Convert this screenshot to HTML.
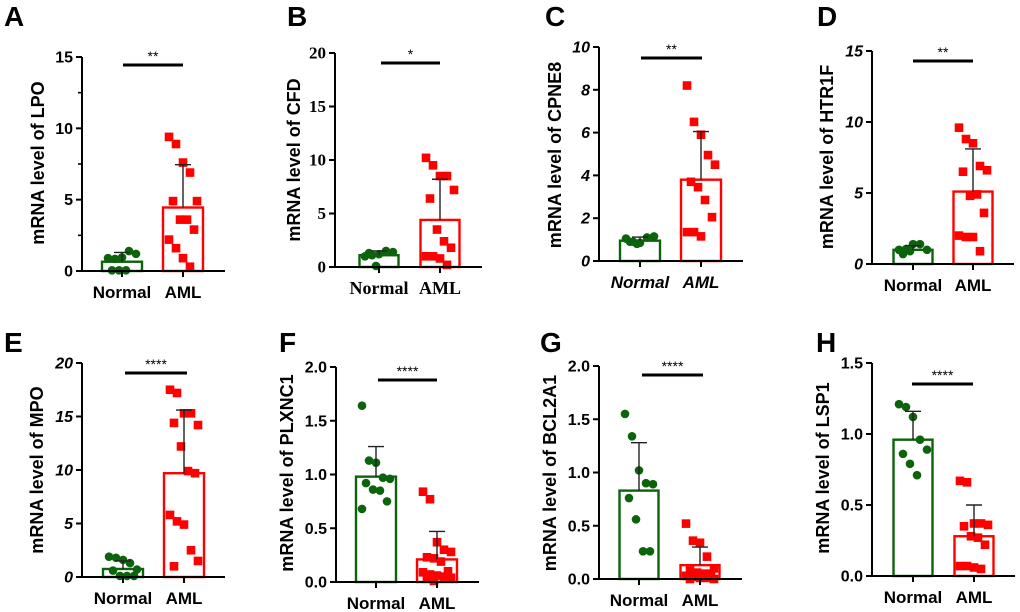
<!DOCTYPE html>
<html><head><meta charset="utf-8"><style>
html,body{margin:0;padding:0;background:#fff;}
svg{display:block;}
</style></head><body>
<svg id="fig" width="1020" height="612" viewBox="0 0 1020 612" xmlns="http://www.w3.org/2000/svg"></svg>
<script>
// ---- data arrays (top level) ----
const groups = ["Normal", "AML"];
const genesA = "LPO", genesB = "CFD", genesC = "CPNE8", genesD = "HTR1F", genesE = "MPO", genesF = "PLXNC1", genesG = "BCL2A1", genesH = "LSP1";
const ticksA = [0,5,10,15], ticksB = [0,5,10,15,20], ticksC = [0,2,4,6,8,10], ticksD = [0,5,10,15];
const ticksE = [0,5,10,15,20], ticksF = [0,0.5,1,1.5,2], ticksG = [0,0.5,1,1.5,2], ticksH = [0,0.5,1,1.5];
const meanA = [0.65,4.45], errA = [1.3,7.45];
const ptsA_N = [0.9,0.85,0.95,1.4,1.2,0.05,0.05,0.05];
const ptsA_A = [9.4,8.9,7.6,6.9,4.9,4.9,3.6,3.6,2.9,2.2,1.6,0.9,0.3];
const meanB = [1.1,4.4], errB = [1.5,8.2];
const ptsB_N = [1.0,1.1,1.2,1.5,1.4,1.3,0.1];
const ptsB_A = [10.2,9.5,8.5,8.5,7.2,6.4,3.5,2.4,1.8,1.0,1.0,0.8,0.2];
const meanC = [0.95,3.8], errC = [1.12,6.05];
const ptsC_N = [1.05,0.9,0.85,1.1,1.15,0.9,0.8];
const ptsC_A = [8.2,6.5,5.9,4.95,4.5,3.7,3.45,2.85,2.05,1.35,1.35,1.15];
const meanD = [1.0,5.1], errD = [1.3,8.1];
const ptsD_N = [1.0,1.05,1.4,1.4,1.0,0.7,0.9];
const ptsD_A = [9.6,8.8,8.5,6.9,6.6,6.5,4.8,4.9,3.6,2.0,1.9,1.9,0.9];
const meanE = [0.75,9.7], errE = [1.5,15.6];
const ptsE_N = [1.9,1.8,1.6,1.3,0.7,0.6,0.1,0.1,0.1];
const ptsE_A = [17.5,17.2,15.3,15.3,14.2,14.4,12.2,9.9,9.7,5.8,5.2,4.9,2.5,1.5,1.0];
const meanF = [0.98,0.21], errF = [1.26,0.47];
const ptsF_N = [1.64,1.13,1.11,0.97,0.96,0.92,0.86,0.85,0.75,0.68];
const ptsF_A = [0.84,0.77,0.37,0.30,0.28,0.23,0.22,0.19,0.10,0.09,0.07,0.06,0.05,0.04,0.03,0.01];
const meanG = [0.83,0.13], errG = [1.28,0.30];
const ptsG_N = [1.55,1.34,1.02,0.90,0.89,0.76,0.56,0.26,0.26];
const ptsG_A = [0.52,0.36,0.34,0.21,0.10,0.08,0.06,0.05,0.05,0.03,0.02,0.01,0.01,0.0,0.0];
const meanH = [0.96,0.28], errH = [1.16,0.50];
const ptsH_N = [1.21,1.19,1.12,0.96,0.89,0.86,0.79,0.71];
const ptsH_A = [0.67,0.66,0.37,0.37,0.36,0.35,0.28,0.27,0.22,0.07,0.07,0.06,0.05];
const sigLabels = ["**","*","**","**","****","****","****","****"];

const NS = "http://www.w3.org/2000/svg";
const svg = document.getElementById("fig");
function mk(tag, attrs, parent, txt){
  const e = document.createElementNS(NS, tag);
  for (const k in attrs) e.setAttribute(k, attrs[k]);
  if (txt !== undefined) e.textContent = txt;
  (parent||svg).appendChild(e); return e;
}
const SANS = '"Liberation Sans", Arial, sans-serif';
const SERIF = '"Liberation Serif", "Times New Roman", serif';
const GREEN = "#0b640b", RED = "#ff0000";
const jit = [-14,-7,0,7,14,-10,-3,4,11,-14,-7,0,7,14,-10,-3];

function panel(p){
  const g = mk("g", {});
  
  
  const yMax = p.ticks[p.ticks.length-1];
  const Y = v => p.y0 - (v / yMax) * (p.y0 - p.yTop);
  const xs = [p.cN, p.cA];
  const L = mk("text", {x:p.lx, y:p.ly, "font-family":SANS, "font-weight":"bold", "font-size":28, fill:"#000"}, g, p.letter);
  
  
  const t = mk("text", {x:0, y:0, transform:`translate(${p.tx},${p.ty}) rotate(-90)`, "text-anchor":"middle", "font-family":SANS, "font-weight":"bold", "font-size":18, fill:"#000"}, g, "mRNA level of " + p.gene);
  
  
  const colors = [GREEN, RED];
  for (let i=0;i<2;i++){
    const b = mk("rect", {x:xs[i]-p.bw/2, y:Y(p.mean[i]), width:p.bw, height:p.y0-Y(p.mean[i]), fill:"none", stroke:colors[i], "stroke-width":2.4}, g);
    
    
  }
  p.ptsN.forEach((v,j)=>{
    const c = mk("circle", {cx:xs[0]+jit[j%jit.length], cy:Y(v), r:4.3, fill:GREEN}, g);
    
    
  });
  p.ptsA.forEach((v,j)=>{
    const yy = Y(v);
    const r = mk("rect", {x:xs[1]+jit[j%jit.length]-4.3, y:yy-4.3, width:8.6, height:8.6, fill:RED}, g);
    
    
  });
  for (let i=0;i<2;i++){
    const e = mk("path", {d:`M${xs[i]},${Y(p.mean[i])}V${Y(p.err[i])}M${xs[i]-8},${Y(p.err[i])}H${xs[i]+8}`, stroke:"#222", "stroke-width":1.4, fill:"none"}, g);
    
    
  }
  const ax = mk("path", {d:`M${p.ax},${p.yTop}V${p.y0}H${p.xEnd}`, stroke:"#000", "stroke-width":2, fill:"none"}, g);
  
  
  const tf = p.tickFont === "serif" ? SERIF : SANS;
  p.ticks.forEach(v=>{
    mk("line", {x1:p.ax-6, x2:p.ax, y1:Y(v), y2:Y(v), stroke:"#000", "stroke-width":2}, g);
    const tl = mk("text", {x:p.ax-9, y:Y(v)+5.5, "text-anchor":"end", "font-family":tf, "font-weight":"bold", "font-style":p.italic?"italic":"normal", "font-size":p.tickFont==="serif"?17:16, fill:"#000"}, g, p.fmt ? v.toFixed(1) : String(v));
    
    
  });
  if (p.minor){
    for (let i=0;i<p.ticks.length-1;i++){
      const m = (p.ticks[i]+p.ticks[i+1])/2;
      mk("line", {x1:p.ax-4, x2:p.ax, y1:Y(m), y2:Y(m), stroke:"#000", "stroke-width":1.6}, g);
    }
  }
  const xf = p.xFont === "serif" ? SERIF : SANS;
  for (let i=0;i<2;i++){
    mk("line", {x1:xs[i], x2:xs[i], y1:p.y0, y2:p.y0+6, stroke:"#000", "stroke-width":2}, g);
    const xl = mk("text", {x:xs[i], y:p.y0+27, "text-anchor":"middle", "font-family":xf, "font-weight":"bold", "font-style":p.xItalic?"italic":"normal", "font-size":p.xFont==="serif"?18:17, fill:"#000"}, g, groups[i]);
    
    
  }
  const s = mk("line", {x1:p.s1, x2:p.s2, y1:p.sy, y2:p.sy, stroke:"#000", "stroke-width":3}, g);
  
  
  const st = mk("text", {x:(p.s1+p.s2)/2, y:p.sy-4, "text-anchor":"middle", "font-family":SANS, "font-size":14, fill:"#000"}, g, p.sig);
  
  
}

panel({letter:"A", gene:genesA, ticks:ticksA, mean:meanA, err:errA, ptsN:ptsA_N, ptsA:ptsA_A, sig:sigLabels[0],
  ax:82, y0:271, yTop:57, xEnd:225, cN:122, cA:183, bw:40, s1:123, s2:183, sy:65, lx:4, ly:26, tx:44, ty:163, minor:true});
panel({letter:"B", gene:genesB, ticks:ticksB, mean:meanB, err:errB, ptsN:ptsB_N, ptsA:ptsB_A, sig:sigLabels[1],
  ax:335, y0:267, yTop:53, xEnd:482, cN:379, cA:440, bw:39, s1:381, s2:440, sy:63, lx:287, ly:26, tx:300, ty:160, tickFont:"serif", xFont:"serif"});
panel({letter:"C", gene:genesC, ticks:ticksC, mean:meanC, err:errC, ptsN:ptsC_N, ptsA:ptsC_A, sig:sigLabels[2],
  ax:599, y0:261, yTop:47, xEnd:743, cN:640, cA:701, bw:40, s1:641, s2:702, sy:58, lx:545, ly:26, tx:561, ty:155, italic:true, xItalic:true});
panel({letter:"D", gene:genesD, ticks:ticksD, mean:meanD, err:errD, ptsN:ptsD_N, ptsA:ptsD_A, sig:sigLabels[3],
  ax:872, y0:264, yTop:51, xEnd:1014, cN:913, cA:973, bw:39, s1:913, s2:973, sy:61, lx:817, ly:26, tx:833, ty:157, italic:true});
panel({letter:"E", gene:genesE, ticks:ticksE, mean:meanE, err:errE, ptsN:ptsE_N, ptsA:ptsE_A, sig:sigLabels[4],
  ax:82, y0:577, yTop:363, xEnd:225, cN:123, cA:184, bw:40, s1:125, s2:187, sy:373, lx:4, ly:352, tx:43, ty:470, italic:true});
panel({letter:"F", gene:genesF, ticks:ticksF, mean:meanF, err:errF, ptsN:ptsF_N, ptsA:ptsF_A, sig:sigLabels[5],
  ax:336, y0:582, yTop:367, xEnd:479, cN:376, cA:437, bw:40, s1:378, s2:437, sy:380, lx:279, ly:352, tx:293, ty:473, fmt:true});
panel({letter:"G", gene:genesG, ticks:ticksG, mean:meanG, err:errG, ptsN:ptsG_N, ptsA:ptsG_A, sig:sigLabels[6],
  ax:599, y0:579, yTop:366, xEnd:742, cN:639, cA:700, bw:39, s1:642, s2:703, sy:375, lx:540, ly:352, tx:556, ty:473, fmt:true});
panel({letter:"H", gene:genesH, ticks:ticksH, mean:meanH, err:errH, ptsN:ptsH_N, ptsA:ptsH_A, sig:sigLabels[7],
  ax:872, y0:576, yTop:363, xEnd:1015, cN:913, cA:974, bw:39, s1:912, s2:973, sy:384, lx:816, ly:352, tx:829, ty:468, fmt:true});
</script>
</body></html>
